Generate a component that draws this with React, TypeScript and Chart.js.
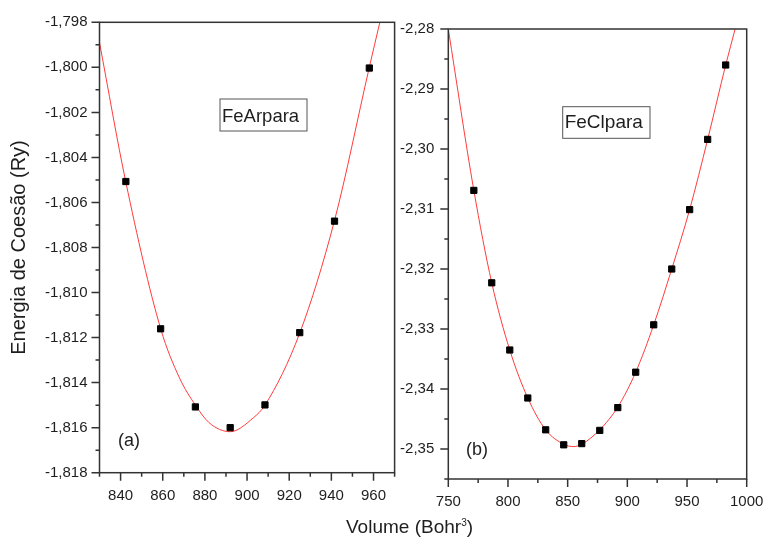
import React, { useEffect, useRef } from 'react';
import { Chart, registerables } from 'chart.js';

Chart.register(...registerables);

// ---------- Panel (a): FeArpara ----------
const leftVolumes = [842.5, 859, 875.5, 892, 908.5, 925, 941.5, 958];
const leftEnergies = [-1.80507, -1.81161, -1.81508, -1.816, -1.81499, -1.81178, -1.80683, -1.80003];
const leftFitVolumes = [830, 842.5, 859, 868, 875.5, 882, 892, 903, 908.5, 925, 941.5, 958, 963];
const leftFitEnergies = [-1.7989, -1.8051, -1.8116, -1.8138, -1.815, -1.81578, -1.81618, -1.81556, -1.815, -1.8118, -1.8068, -1.8, -1.798];
const leftXMajor = [840, 860, 880, 900, 920, 940, 960];
const leftXLabels = ['840', '860', '880', '900', '920', '940', '960'];
const leftXMinor = [830, 850, 870, 890, 910, 930, 950, 970];
const leftYMajor = [-1.798, -1.8, -1.802, -1.804, -1.806, -1.808, -1.81, -1.812, -1.814, -1.816, -1.818];
const leftYLabels = ['-1,798', '-1,800', '-1,802', '-1,804', '-1,806', '-1,808', '-1,810', '-1,812', '-1,814', '-1,816', '-1,818'];
const leftYMinor = [-1.799, -1.801, -1.803, -1.805, -1.807, -1.809, -1.811, -1.813, -1.815, -1.817];

// ---------- Panel (b): FeClpara ----------
const rightVolumes = [771.4, 786.4, 801.5, 816.6, 831.6, 846.7, 861.8, 876.9, 892, 907, 922.1, 937.2, 952.2, 967.3, 982.4];
const rightEnergies = [-2.3069, -2.3223, -2.3335, -2.3415, -2.3468, -2.3493, -2.3491, -2.3469, -2.3431, -2.3372, -2.3293, -2.32, -2.3101, -2.2984, -2.286];
const rightFitVolumes = [750, 771.4, 786.4, 801.5, 816.6, 831.6, 846.7, 855, 861.8, 876.9, 892, 907, 922.1, 937.2, 952.2, 967.3, 982.4, 990.3];
const rightFitEnergies = [-2.28, -2.3069, -2.3223, -2.3335, -2.3415, -2.3468, -2.3492, -2.3496, -2.3492, -2.3468, -2.343, -2.3372, -2.3293, -2.32, -2.3101, -2.2984, -2.286, -2.28];
const rightXMajor = [750, 800, 850, 900, 950, 1000];
const rightXLabels = ['750', '800', '850', '900', '950', '1000'];
const rightXMinor = [775, 825, 875, 925, 975];
const rightYMajor = [-2.28, -2.29, -2.3, -2.31, -2.32, -2.33, -2.34, -2.35];
const rightYLabels = ['-2,28', '-2,29', '-2,30', '-2,31', '-2,32', '-2,33', '-2,34', '-2,35'];
const rightYMinor = [-2.285, -2.295, -2.305, -2.315, -2.325, -2.335, -2.345, -2.355];

const yAxisTitle = 'Energia de Coesão (Ry)';

const FONT = '"Liberation Sans", Arial, Helvetica, sans-serif';
const AXIS_COLOR = '#333';
const TEXT_COLOR = '#1e1e1e';

function labelFor(v: number, major: number[], labels: string[]) {
  for (let i = 0; i < major.length; i++) {
    if (Math.abs(major[i] - v) < 1e-9) return labels[i];
  }
  return '';
}

function buildTicks(major: number[], minor: number[]) {
  return [...major, ...minor].sort((a, b) => a - b).map((v) => ({ value: v }));
}

type PanelCfg = {
  pts: { x: number; y: number }[];
  fit: { x: number; y: number }[];
  xMin: number; xMax: number; yMin: number; yMax: number;
  xMajor: number[]; xLabels: string[]; xMinor: number[];
  yMajor: number[]; yLabels: string[]; yMinor: number[];
  padding: { left: number; top: number; right: number; bottom: number };
  yWidth: number;
  yLabelPad: number;
  showYTitle: boolean;
  box: { text: string; x: number; y: number; w: number; h: number; size: number; base: number };
  tag: { text: string; x: number; y: number };
};

function makeChart(canvas: HTMLCanvasElement, c: PanelCfg) {
  const decor = {
    id: 'panelDecor',
    afterDraw(chart: any) {
      const { ctx, chartArea: a, scales } = chart;
      ctx.save();
      ctx.strokeStyle = AXIS_COLOR;
      ctx.lineWidth = 1.5;
      ctx.beginPath();
      const xs = scales.x, ys = scales.y;
      c.xMajor.forEach((v) => { const p = xs.getPixelForValue(v); ctx.moveTo(p, a.bottom); ctx.lineTo(p, a.bottom + 8); });
      c.xMinor.forEach((v) => { const p = xs.getPixelForValue(v); ctx.moveTo(p, a.bottom); ctx.lineTo(p, a.bottom + 4); });
      c.yMajor.forEach((v) => { const p = ys.getPixelForValue(v); ctx.moveTo(a.left, p); ctx.lineTo(a.left - 8, p); });
      c.yMinor.forEach((v) => { const p = ys.getPixelForValue(v); ctx.moveTo(a.left, p); ctx.lineTo(a.left - 4, p); });
      ctx.stroke();
      ctx.strokeRect(a.left, a.top, a.right - a.left, a.bottom - a.top);
      // label box
      ctx.lineWidth = 1;
      ctx.strokeStyle = '#555';
      ctx.strokeRect(c.box.x, c.box.y, c.box.w, c.box.h);
      ctx.fillStyle = TEXT_COLOR;
      ctx.textBaseline = 'alphabetic';
      ctx.textAlign = 'left';
      ctx.font = `${c.box.size}px ${FONT}`;
      ctx.fillText(c.box.text, c.box.x + 2, c.box.y + c.box.base);
      ctx.font = `18px ${FONT}`;
      ctx.fillText(c.tag.text, c.tag.x, c.tag.y);
      ctx.restore();
    },
  };

  return new Chart(canvas, {
    type: 'scatter',
    data: {
      datasets: [
        {
          label: 'calc',
          data: c.pts,
          pointStyle: 'rect',
          pointRadius: 4.4,
          backgroundColor: '#000',
          borderColor: '#000',
          borderWidth: 1,
          showLine: false,
        },
        {
          label: 'fit',
          data: c.fit,
          showLine: true,
          borderColor: '#ff3b3b',
          borderWidth: 1,
          pointRadius: 0,
          cubicInterpolationMode: 'monotone',
          fill: false,
        },
      ],
    },
    options: {
      responsive: false,
      animation: false,
      devicePixelRatio: 1,
      events: [],
      layout: { padding: c.padding },
      plugins: { legend: { display: false }, tooltip: { enabled: false } },
      scales: {
        x: {
          type: 'linear',
          min: c.xMin,
          max: c.xMax,
          afterBuildTicks: (s: any) => { s.ticks = buildTicks(c.xMajor, c.xMinor); },
          afterFit: (s: any) => { s.height = 40; s.paddingLeft = 0; s.paddingRight = 0; },
          ticks: {
            autoSkip: false,
            maxRotation: 0,
            padding: 14,
            color: TEXT_COLOR,
            font: { family: FONT, size: 15 },
            callback: (v: any) => labelFor(Number(v), c.xMajor, c.xLabels),
          },
          grid: { display: false, drawTicks: false },
          border: { display: false },
        },
        y: {
          type: 'linear',
          min: c.yMin,
          max: c.yMax,
          afterBuildTicks: (s: any) => { s.ticks = buildTicks(c.yMajor, c.yMinor); },
          afterFit: (s: any) => { s.width = c.yWidth; s.paddingTop = 0; s.paddingBottom = 0; },
          ticks: {
            autoSkip: false,
            padding: c.yLabelPad,
            color: TEXT_COLOR,
            font: { family: FONT, size: 15 },
            callback: (v: any) => labelFor(Number(v), c.yMajor, c.yLabels),
          },
          grid: { display: false, drawTicks: false },
          border: { display: false },
          title: {
            display: c.showYTitle,
            text: yAxisTitle,
            color: TEXT_COLOR,
            font: { family: FONT, size: 20 },
            padding: { top: 7, bottom: 0 },
          },
        },
      },
    },
    plugins: [decor],
  } as any);
}

export default function App() {
  const leftRef = useRef<HTMLCanvasElement>(null);
  const rightRef = useRef<HTMLCanvasElement>(null);

  useEffect(() => {
    const left = makeChart(leftRef.current!, {
      pts: leftVolumes.map((x, i) => ({ x, y: leftEnergies[i] })),
      fit: leftFitVolumes.map((x, i) => ({ x, y: leftFitEnergies[i] })),
      xMin: 830, xMax: 970, yMin: -1.818, yMax: -1.798,
      xMajor: leftXMajor, xLabels: leftXLabels, xMinor: leftXMinor,
      yMajor: leftYMajor, yLabels: leftYLabels, yMinor: leftYMinor,
      padding: { left: 0, top: 22.3, right: 3.3, bottom: 24.3 },
      yWidth: 99.5,
      yLabelPad: 12,
      showYTitle: true,
      box: { text: 'FeArpara', x: 220, y: 99, w: 87, h: 32, size: 18.5, base: 22.7 },
      tag: { text: '(a)', x: 118, y: 446 },
    });
    const right = makeChart(rightRef.current!, {
      pts: rightVolumes.map((x, i) => ({ x, y: rightEnergies[i] })),
      fit: rightFitVolumes.map((x, i) => ({ x, y: rightFitEnergies[i] })),
      xMin: 750, xMax: 1000, yMin: -2.355, yMax: -2.28,
      xMajor: rightXMajor, xLabels: rightXLabels, xMinor: rightXMinor,
      yMajor: rightYMajor, yLabels: rightYLabels, yMinor: rightYMinor,
      padding: { left: 0, top: 29, right: 19.3, bottom: 18 },
      yWidth: 56.3,
      yLabelPad: 14,
      showYTitle: false,
      box: { text: 'FeClpara', x: 170.7, y: 106.7, w: 87.3, h: 31.6, size: 19, base: 21.6 },
      tag: { text: '(b)', x: 74, y: 455 },
    });
    return () => {
      left.destroy();
      right.destroy();
    };
  }, []);

  return (
    <div style={{ position: 'absolute', left: 0, top: 0, width: 766, height: 537, background: '#fff', overflow: 'hidden' }}>
      <canvas ref={leftRef} width={400} height={537} style={{ position: 'absolute', left: 0, top: 0, display: 'block' }} />
      <canvas ref={rightRef} width={374} height={537} style={{ position: 'absolute', left: 392, top: 0, display: 'block' }} />
      <div
        style={{
          position: 'absolute',
          left: 346,
          top: 517,
          font: `19px ${FONT}`,
          lineHeight: '19px',
          color: TEXT_COLOR,
          whiteSpace: 'nowrap',
        }}
      >
        Volume (Bohr<sup style={{ fontSize: 10, lineHeight: 0, verticalAlign: 'super' }}>3</sup>)
      </div>
    </div>
  );
}
